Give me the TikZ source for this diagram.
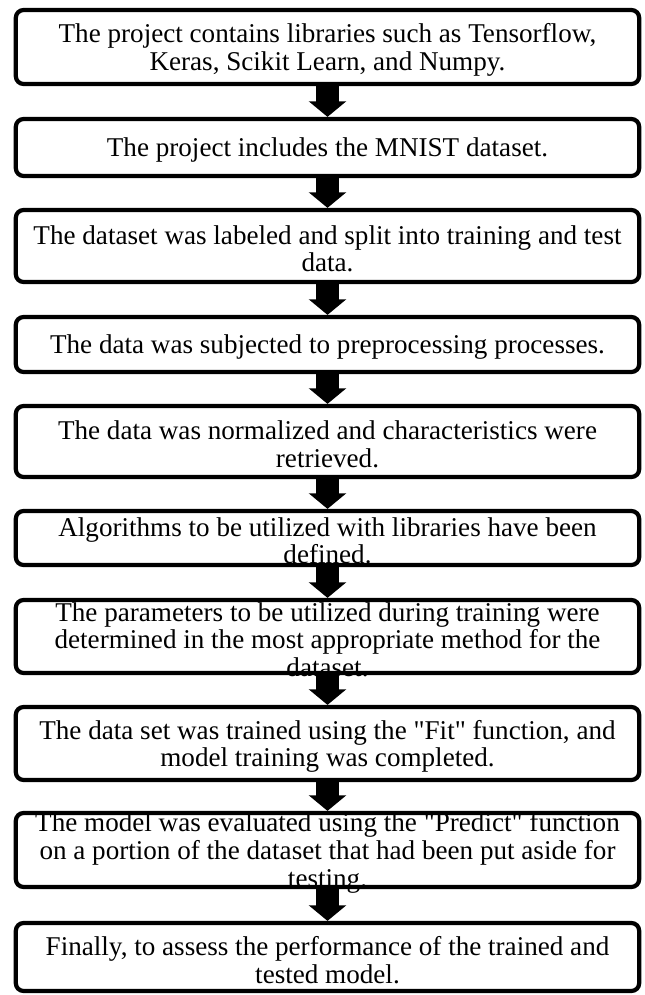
\documentclass[tikz,border=0pt]{standalone}
\usepackage{fontspec}
\setmainfont{Liberation Serif}
\usetikzlibrary{arrows.meta}
\tikzset{>={Triangle[width=16.5pt,length=7pt]}}

\begin{document}
\begin{tikzpicture}[x=0.45pt, y=-0.45pt, line join = round,
    stage/.style={draw=black, fill=white, line width=1.9pt, rounded corners=3.5pt, minimum width=280.5pt, inner sep=0pt},
    stagetext/.style={align=center, font=\fontsize{12.2}{12.4}\selectfont, inner sep=0pt, yshift=-1.3pt},
    flow/.style={->, line width=10pt}]
    \useasboundingbox (0,0) rectangle (644,995);

    \node[stage, minimum height=33.3pt] (s1) at (327.5,47) {};
    \node[stage, minimum height=25.65pt] (s2) at (327.5,147.5) {};
    \node[stage, minimum height=32.4pt] (s3) at (327.5,246) {};
    \node[stage, minimum height=24.75pt] (s4) at (327.5,344.5) {};
    \node[stage, minimum height=31.95pt] (s5) at (327.5,441.5) {};
    \node[stage, minimum height=24.3pt] (s6) at (327.5,538) {};
    \node[stage, minimum height=32.85pt] (s7) at (327.5,636.5) {};
    \node[stage, minimum height=32.85pt] (s8) at (327.5,743.5) {};
    \node[stage, minimum height=33.3pt] (s9) at (327.5,850) {};
    \node[stage, minimum height=30.6pt] (s10) at (327.5,957) {};

    \draw[flow] (s1) -- (s2);
    \draw[flow] (s2) -- (s3);
    \draw[flow] (s3) -- (s4);
    \draw[flow] (s4) -- (s5);
    \draw[flow] (s5) -- (s6);
    \draw[flow] (s6) -- (s7);
    \draw[flow] (s7) -- (s8);
    \draw[flow] (s8) -- (s9);
    \draw[flow] (s9) -- (s10);

    \node[stagetext] (t1) at (s1) {The project contains libraries such as Tensorflow,\\ Keras, Scikit Learn, and Numpy.};
    \node[stagetext] (t2) at (s2) {The project includes the MNIST dataset.};
    \node[stagetext] (t3) at (s3) {The dataset was labeled and split into training and test\\ data.};
    \node[stagetext] (t4) at (s4) {The data was subjected to preprocessing processes.};
    \node[stagetext] (t5) at (s5) {The data was normalized and characteristics were\\ retrieved.};
    \node[stagetext] (t6) at (s6) {Algorithms to be utilized with libraries have been\\ defined.};
    \node[stagetext] (t7) at (s7) {The parameters to be utilized during training were\\ determined in the most appropriate method for the\\ dataset.};
    \node[stagetext] (t8) at (s8) {The data set was trained using the \textquotedbl Fit\textquotedbl{} function, and\\ model training was completed.};
    \node[stagetext] (t9) at (s9) {The model was evaluated using the \textquotedbl Predict\textquotedbl{} function\\ on a portion of the dataset that had been put aside for\\ testing.};
    \node[stagetext] (t10) at (s10) {Finally, to assess the performance of the trained and\\ tested model.};
\end{tikzpicture}
\end{document}
